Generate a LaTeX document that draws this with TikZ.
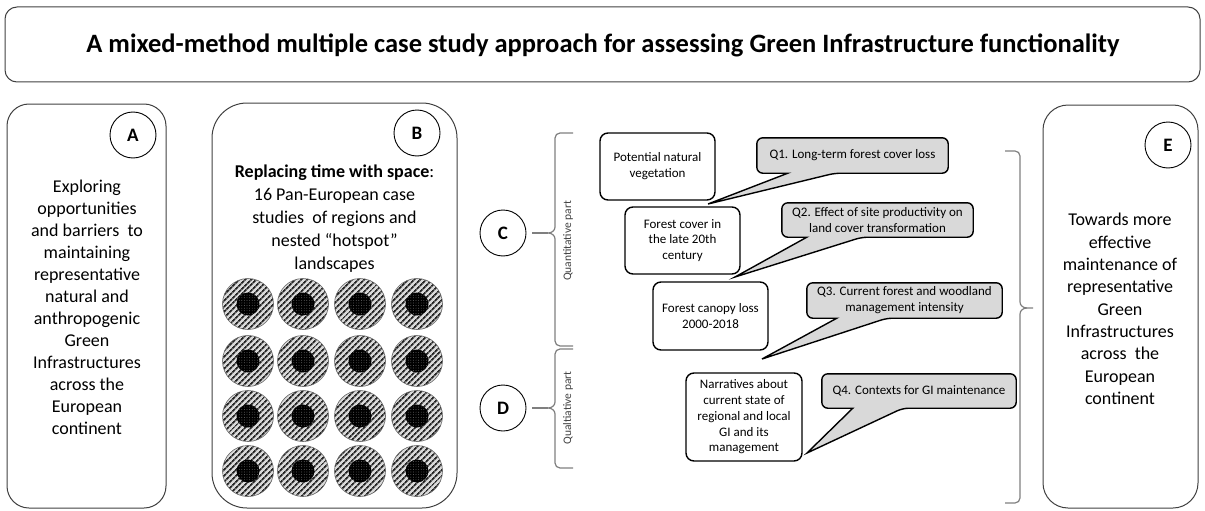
\documentclass[tikz,border=0pt]{standalone}
\usepackage{fontspec}
\setmainfont{Carlito}
\usetikzlibrary{patterns.meta}
\definecolor{qgray}{HTML}{D9D9D9}
\definecolor{linegray}{HTML}{404040}
\definecolor{bracegray}{HTML}{7F7F7F}
\tikzset{
  bigbox/.style={draw=linegray, line width=1pt},
  letter/.style={circle, draw=black, line width=0.9pt, minimum size=46pt, inner sep=0pt, font=\fontsize{19}{22}\selectfont\bfseries},
  bigtext/.style={align=center, font=\fontsize{18}{22}\selectfont, inner sep=0pt},
  wbox/.style={draw=black, line width=1.4pt, rounded corners=8pt, fill=white, align=center, inner sep=0pt, font=\fontsize{13}{15.8}\selectfont},
  qtext/.style={align=center, inner sep=0pt, font=\fontsize{13}{15.8}\selectfont},
  qshape/.style={draw=black, line width=1.4pt, fill=qgray},
  bracestyle/.style={draw=bracegray, line width=1.2pt},
  sidelabel/.style={rotate=90, font=\fontsize{11.5}{13}\selectfont, text=black!75, inner sep=0pt},
  outerdisc/.style={circle, minimum size=51pt, inner sep=0pt, draw=black!60, line width=0.6pt,
    preaction={fill=black!15}, pattern={Lines[angle=45,distance=4pt,line width=1.9pt]}, pattern color=black!85},
  innerdisc/.style={circle, minimum size=23pt, inner sep=0pt,
    preaction={fill=black}, pattern={Dots[distance=2.6pt,radius=0.45pt]}, pattern color=black!55}
}
\begin{document}
\begin{tikzpicture}[x=1pt,y=-1pt]
\useasboundingbox (0,0) rectangle (1205,511);

% title
\draw[bigbox, rounded corners=12pt] (5,7) rectangle (1200,82);
\node[font=\fontsize{26.5}{28}\selectfont\bfseries, inner sep=0pt] (title) at (603,45) {A mixed-method multiple case study approach for assessing Green Infrastructure functionality};

% box A
\draw[bigbox, rounded corners=22pt] (7,104) rectangle (166,508);
\node[letter] (A) at (133,135) {A};
\node[bigtext] (Atext) at (87,307) {Exploring\\opportunities\\and barriers\ \ to\\maintaining\\representative\\natural and\\anthropogenic\\Green\\Infrastructures\\across the\\European\\continent};

% box B
\draw[bigbox, rounded corners=35pt] (212,103) rectangle (457,508);
\node[letter] (B) at (417,133) {B};
\node[bigtext, font=\fontsize{18}{23}\selectfont] (Btext) at (334.5,219) {\textbf{Replacing time with space}:\\16 Pan-European case\\studies\ \ of regions and\\nested “hotspot”\\landscapes};
\foreach \cx [count=\i] in {248,303,360,417}{
  \foreach \cy [count=\j] in {304,361,416,471}{
    \node[outerdisc] (o\i\j) at (\cx,\cy) {};
    \node[innerdisc] (n\i\j) at (\cx,\cy) {};
  }
}

% C and D
\node[letter] (C) at (503,233) {C};
\node[letter] (D) at (503,408) {D};
\coordinate (Ctip) at (548,233);
\coordinate (Dtip) at (548,408);
\draw[bracestyle, shorten <=6pt] (C) -- (Ctip);
\draw[bracestyle, shorten <=6pt] (D) -- (Dtip);
\draw[bracestyle] (573,133) -- (560,133) to[out=180,in=90] (555,138) -- (555,227)
   to[out=-90,in=0] (Ctip) to[out=0,in=90] (555,239) -- (555,341) to[out=-90,in=180] (560,346) -- (573,346);
\draw[bracestyle] (573,349) -- (560,349) to[out=180,in=90] (555,354) -- (555,402)
   to[out=-90,in=0] (Dtip) to[out=0,in=90] (555,414) -- (555,463) to[out=-90,in=180] (560,468) -- (573,468);
\node[sidelabel] (quant) at (568,241) {Quantitative part};
\node[sidelabel] (qual) at (568,408) {Qualtiative part};

% white boxes
\node[wbox, minimum width=115pt, minimum height=67pt] (pnv) at (657.5,166.5) {Potential natural\\vegetation};
\node[wbox, minimum width=115pt, minimum height=67pt] (fc) at (682.5,240.5) {Forest cover in\\the late 20th\\century};
\node[wbox, minimum width=115pt, minimum height=68pt] (fcl) at (710.5,316) {Forest canopy loss\\2000-2018};
\node[wbox, minimum width=116pt, minimum height=88pt] (nar) at (744,417) {Narratives about\\current state of\\regional and local\\GI and its\\management};

% callouts
\coordinate (t1) at (708,204);
\coordinate (t2) at (735,277);
\coordinate (t3) at (762,359);
\coordinate (t4) at (807,453);
\node[minimum width=191pt, minimum height=35pt, inner sep=0pt] (Q1) at (852.5,155.5) {};
\node[minimum width=191pt, minimum height=34pt, inner sep=0pt] (Q2) at (877.5,220) {};
\node[minimum width=195pt, minimum height=35pt, inner sep=0pt] (Q3) at (904.5,300.5) {};
\node[minimum width=194pt, minimum height=34pt, inner sep=0pt] (Q4) at (919,391) {};
\foreach \q/\t/\a/\b in {Q1/t1/31/78, Q2/t2/25/80, Q3/t3/30/80, Q4/t4/31/81}{
  \draw[qshape, rounded corners=6pt] (\q.west) -- (\q.north west) -- (\q.north east) -- (\q.south east)
    -- ([xshift=\b pt]\q.south west) [sharp corners] -- (\t) -- ([xshift=\a pt]\q.south west) [rounded corners=6pt]
    -- (\q.south west) -- cycle;
}
\node[qtext] (Q1t) at (Q1) {Q1. Long-term forest cover loss};
\node[qtext] (Q2t) at (Q2) {Q2. Effect of site productivity on\\land cover transformation};
\node[qtext] (Q3t) at (Q3) {Q3. Current forest and woodland\\management intensity};
\node[qtext] (Q4t) at (Q4) {Q4. Contexts for GI maintenance};

% right brace
\coordinate (Etip) at (1033,308);
\draw[bracestyle] (1005,151) -- (1015,151) to[out=0,in=90] (1020,156) -- (1020,302)
   to[out=-90,in=180] (1027,308) -- (Etip);
\draw[bracestyle] (1027,308) to[out=180,in=90] (1020,314) -- (1020,498) to[out=-90,in=0] (1015,503) -- (1005,503);

% box E
\draw[bigbox, rounded corners=25pt] (1043,105) rectangle (1198,508);
\node[letter] (E) at (1168,145) {E};
\node[bigtext, font=\fontsize{18}{22.3}\selectfont] (Etext) at (1120,309) {Towards more\\effective\\maintenance of\\representative\\Green\\Infrastructures\\across\ \ the\\European\\continent};
\end{tikzpicture}
\end{document}
